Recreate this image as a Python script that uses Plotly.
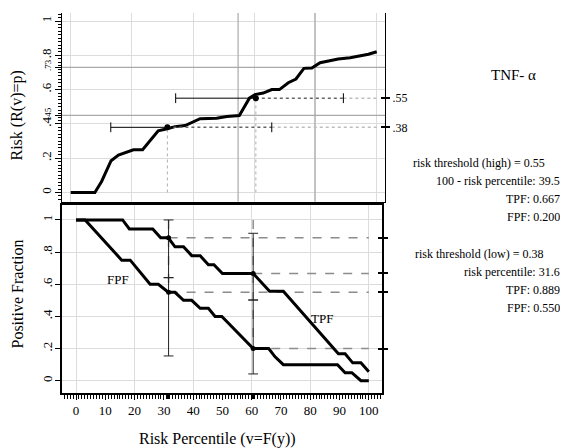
import plotly.graph_objects as go

# ---------------- data ----------------
# predictiveness curve (risk vs risk percentile)
pct = [0, 7.9, 10.1, 13.2, 15.6, 18.3, 20.5, 23.5, 28.6, 31.2, 34.1, 37.4, 40.1, 42.3,
       47.7, 51.0, 55.1, 57.3, 58.4, 60.2, 62.9, 65.7, 68.2, 71.1, 73.6, 76.2, 78.8,
       81.5, 84.2, 87.4, 91.3, 95.1, 97.3, 100]
risk = [0, 0, 0.064, 0.185, 0.218, 0.233, 0.249, 0.249, 0.36, 0.37, 0.384, 0.39, 0.414,
        0.43, 0.433, 0.443, 0.449, 0.52, 0.55, 0.571, 0.58, 0.60, 0.60, 0.64, 0.662,
        0.724, 0.726, 0.757, 0.767, 0.779, 0.786, 0.796, 0.806, 0.821]

# true / false positive fractions
tpf_x = [0, 15.9, 18.2, 26.2, 28.9, 31.5, 33.8, 36.7, 39.5, 42.4, 45.2, 47.1, 50.0,
         60.5, 66.1, 70.8, 89.6, 91.9, 94.5, 97.3, 100]
tpf_y = [1, 1, .944, .944, .889, .889, .833, .833, .778, .778, .722, .722, .667, .667,
         .556, .556, .167, .167, .111, .111, .056]
fpf_x = [0, 3.1, 15.6, 18.5, 25.3, 28.1, 31.5, 33.8, 36.7, 39.5, 42.4, 45.2, 47.5, 49.8,
         60.5, 65.8, 67.9, 70.8, 89.3, 91.9, 94.2, 97.3, 100]
fpf_y = [1, 1, .75, .75, .6, .6, .55, .55, .5, .5, .45, .45, .4, .4, .2, .2, .15, .1, .1,
         .05, .05, 0, 0]

# thresholds: [low, high]
thr_risk = [0.38, 0.55]
thr_pct = [31.6, 60.5]
thr_tpf = [0.889, 0.667]
thr_fpf = [0.55, 0.20]
pct_ci_lo = [13.1, 34.3]
pct_ci_hi = [65.7, 89.1]
tpf_ci_lo = [0.641, 0.502]
tpf_ci_hi = [1.0, 0.917]
fpf_ci_lo = [0.154, 0.042]
fpf_ci_hi = [0.641, 0.502]

ref_risk = [0.45, 0.73]
ref_pct = [54.7, 79.8]

top_ticks = [0, 0.2, 0.4, 0.45, 0.6, 0.73, 0.8, 1]
top_ticktext = ['0', '.2', '.4', '<span style="font-size:9px">.45</span>', '.6',
                '<span style="font-size:9px">.73</span>', '.8', '1']
bot_yticks = [0, 0.2, 0.4, 0.6, 0.8, 1]
bot_yticktext = ['0', '.2', '.4', '.6', '.8', '1']
x_ticks = [0, 10, 20, 30, 40, 50, 60, 70, 80, 90, 100]

info_high = ["risk threshold (high) = 0.55", "100 - risk percentile: 39.5",
             "TPF: 0.667", "FPF: 0.200"]
info_low = ["risk threshold (low) = 0.38", "risk percentile: 31.6",
            "TPF: 0.889", "FPF: 0.550"]

# ---------------- styling ----------------
FONT = "Liberation Serif"
OFF = 8                      # page body margin
W, H = 568 - OFF, 448 - OFF
GRID = "#dcdcdc"
REF = "#a9a9a9"


def px(x):
    return (x - OFF) / W


def py(y):
    return 1 - (y - OFF) / H


def seg(xs0, xs1, ys0, ys1):
    xs, ys = [], []
    for a, b, c, d in zip(xs0, xs1, ys0, ys1):
        xs += [a, b, None]
        ys += [c, d, None]
    return xs, ys


def carrier(x, y, xa, ya):
    return go.Scatter(x=x, y=y, mode="markers", marker=dict(opacity=0), xaxis=xa,
                      yaxis=ya, showlegend=False, hoverinfo="skip")


fig = go.Figure()

# ---------- top panel ----------
xs, ys = seg([-3.0] * 2, [102.7] * 2, ref_risk, ref_risk)
fig.add_trace(go.Scatter(x=xs, y=ys, mode="lines", line=dict(color=REF, width=1.2),
                         xaxis="x", yaxis="y", showlegend=False, hoverinfo="skip"))
xs, ys = seg(ref_pct, ref_pct, [-0.054] * 2, [1.047] * 2)
fig.add_trace(go.Scatter(x=xs, y=ys, mode="lines", line=dict(color=REF, width=1.2),
                         xaxis="x", yaxis="y", showlegend=False, hoverinfo="skip"))

fig.add_trace(go.Scatter(x=pct, y=risk, mode="lines", line=dict(color="black", width=3),
                         xaxis="x", yaxis="y", showlegend=False))
xs, ys = seg(thr_pct, thr_pct, [0, 0], thr_risk)
fig.add_trace(go.Scatter(x=xs, y=ys, mode="lines",
                         line=dict(color="#b0b0b0", width=1, dash="dot"),
                         xaxis="x", yaxis="y", showlegend=False))
xs, ys = seg(pct_ci_hi, [100, 100], thr_risk, thr_risk)
fig.add_trace(go.Scatter(x=xs, y=ys, mode="lines",
                         line=dict(color="#bdbdbd", width=1.5, dash="dot"),
                         xaxis="x", yaxis="y", showlegend=False))
xs, ys = seg(thr_pct, pct_ci_hi, thr_risk, thr_risk)
fig.add_trace(go.Scatter(x=xs, y=ys, mode="lines",
                         line=dict(color="#666666", width=1.5, dash="dot"),
                         xaxis="x", yaxis="y", showlegend=False))
xs, ys = seg(pct_ci_lo, thr_pct, thr_risk, thr_risk)
fig.add_trace(go.Scatter(x=xs, y=ys, mode="lines", line=dict(color="black", width=1),
                         xaxis="x", yaxis="y", showlegend=False))
fig.add_trace(go.Scatter(x=pct_ci_lo + pct_ci_hi, y=thr_risk + thr_risk, mode="markers",
                         marker=dict(symbol="line-ns-open", size=7, color="black",
                                     line=dict(color="black", width=1)),
                         xaxis="x", yaxis="y", showlegend=False))
fig.add_trace(go.Scatter(x=thr_pct, y=thr_risk, mode="markers",
                         marker=dict(color="black", size=6),
                         xaxis="x", yaxis="y", showlegend=False))
fig.add_trace(carrier(thr_pct, thr_risk, "x", "y2"))
fig.add_trace(carrier(thr_pct, thr_risk, "x", "y5"))

# ---------- bottom panel ----------
xs, ys = seg(thr_pct, thr_pct, [1, 1], thr_fpf)
fig.add_trace(go.Scatter(x=xs, y=ys, mode="lines",
                         line=dict(color="#8c8c8c", width=1.5, dash="dash"),
                         xaxis="x3", yaxis="y3", showlegend=False))
hx0 = thr_pct + thr_pct
hy = thr_tpf + thr_fpf
xs, ys = seg(hx0, [100] * 4, hy, hy)
fig.add_trace(go.Scatter(x=xs, y=ys, mode="lines",
                         line=dict(color="#8c8c8c", width=1.5, dash="dash"),
                         xaxis="x3", yaxis="y3", showlegend=False))
fig.add_trace(go.Scatter(x=tpf_x, y=tpf_y, mode="lines", line=dict(color="black", width=3),
                         xaxis="x3", yaxis="y3", showlegend=False))
fig.add_trace(go.Scatter(x=fpf_x, y=fpf_y, mode="lines", line=dict(color="black", width=3),
                         xaxis="x3", yaxis="y3", showlegend=False))
xs, ys = seg(thr_pct + thr_pct, thr_pct + thr_pct, tpf_ci_lo + fpf_ci_lo,
             tpf_ci_hi + fpf_ci_hi)
fig.add_trace(go.Scatter(x=xs, y=ys, mode="lines", line=dict(color="#222222", width=1),
                         xaxis="x3", yaxis="y3", showlegend=False))
fig.add_trace(go.Scatter(x=thr_pct * 4,
                         y=tpf_ci_lo + tpf_ci_hi + fpf_ci_lo + fpf_ci_hi,
                         mode="markers",
                         marker=dict(symbol="line-ew-open", size=7, color="#222222",
                                     line=dict(color="#222222", width=1)),
                         xaxis="x3", yaxis="y3", showlegend=False))
fig.add_trace(go.Scatter(x=thr_pct + thr_pct, y=thr_tpf + thr_fpf, mode="markers",
                         marker=dict(color="black", size=5),
                         xaxis="x3", yaxis="y3", showlegend=False))
fig.add_trace(carrier(hx0, hy, "x3", "y4"))
fig.add_trace(carrier(hx0, hy, "x3", "y6"))
fig.add_trace(carrier(thr_pct, thr_fpf, "x4", "y3"))
fig.add_trace(carrier(thr_pct, thr_fpf, "x5", "y3"))

tickfont = dict(family=FONT, size=13, color="black")

top_dom_x = [px(61.5), px(385)]
top_dom_y = [py(201.7), py(13)]
bot_dom_x = [px(62), px(382)]
bot_dom_y = [py(393), py(205)]
top_yrange = [-0.054, 1.047]
bot_xrange = [-4.8, 104.5]
bot_yrange = [-0.0765, 1.093]


def ann(text, x, y, size, xanchor="center", angle=0, xref="paper", yref="paper"):
    return dict(text=text, x=x, y=y, xref=xref, yref=yref, xanchor=xanchor,
                yanchor="middle", textangle=angle, showarrow=False,
                font=dict(family=FONT, size=size, color="black"))


annotations = [
    ann("Risk (R(v)=p)", px(16.5), py(116), 16, angle=-90),
    ann("Positive Fraction", px(16.5), py(294), 16, angle=-90),
    ann("Risk Percentile (v=F(y))", px(217), py(439), 16),
    ann("TNF- α", px(513), py(75), 15),
    ann("FPF", 14.3, 0.627, 13, xref="x3", yref="y3"),
    ann("TPF", 83.9, 0.388, 13, xref="x3", yref="y3"),
]
for i, (t, yy) in enumerate(zip(info_high, [163, 181, 199, 217])):
    if i == 0:
        annotations.append(ann(t, px(411), py(yy), 12, xanchor="left"))
    else:
        annotations.append(ann(t, px(562), py(yy), 12, xanchor="right"))
for i, (t, yy) in enumerate(zip(info_low, [254, 272, 290, 308])):
    if i == 0:
        annotations.append(ann(t, px(413), py(yy), 12, xanchor="left"))
    else:
        annotations.append(ann(t, px(562), py(yy), 12, xanchor="right"))

fig.update_layout(
    width=W, height=H, margin=dict(l=0, r=0, t=0, b=0, autoexpand=False),
    paper_bgcolor="white", plot_bgcolor="white",
    font=dict(family=FONT, color="black"),
    annotations=annotations,
    xaxis=dict(domain=top_dom_x, range=[-3.0, 102.7], anchor="y",
               tickmode="linear", tick0=0, dtick=20, showticklabels=False, ticks="",
               showgrid=True, gridcolor=GRID, gridwidth=1, zeroline=False,
               showline=True, linecolor="black", linewidth=1),
    yaxis=dict(domain=top_dom_y, range=top_yrange, anchor="x",
               tickvals=top_ticks, ticktext=top_ticktext, tickangle=-90,
               ticks="outside", ticklen=6, tickcolor="black", tickfont=tickfont,
               ticklabelstandoff=-2,
               showgrid=True, gridcolor=GRID, zeroline=False,
               showline=True, linecolor="black", linewidth=1,
               minor=dict(dtick=0.02, tick0=0, ticks="outside", ticklen=3,
                          tickcolor="black", showgrid=False)),
    yaxis2=dict(overlaying="y", side="right", anchor="x", range=top_yrange,
                tickvals=thr_risk, ticktext=[".38", ".55"], ticks="outside", ticklen=4,
                tickcolor="black", tickwidth=1.5, tickfont=dict(family=FONT, size=12),
                showgrid=False, zeroline=False, showline=True, linecolor="black",
                linewidth=1),
    yaxis5=dict(overlaying="y", side="right", anchor="x", range=top_yrange,
                tickvals=thr_risk, showticklabels=False, ticks="inside", ticklen=4,
                tickcolor="black", tickwidth=1.5, showgrid=False, zeroline=False,
                showline=False),
    xaxis3=dict(domain=bot_dom_x, range=bot_xrange, anchor="y3",
                tickvals=x_ticks, ticks="outside", ticklen=5, tickcolor="black",
                tickfont=tickfont, showgrid=False, zeroline=False,
                showline=True, linecolor="black", linewidth=1.5, mirror=True,
                minor=dict(dtick=1, tick0=0, ticks="outside", ticklen=4,
                           tickcolor="black", showgrid=False)),
    xaxis4=dict(overlaying="x3", anchor="y3", range=bot_xrange, tickmode="linear",
                tick0=0, dtick=20, showticklabels=False, ticks="", showgrid=True,
                gridcolor=GRID, zeroline=False, showline=False),
    xaxis5=dict(overlaying="x3", anchor="y3", range=bot_xrange, tickvals=thr_pct,
                showticklabels=False, ticks="outside", ticklen=5, tickwidth=3,
                tickcolor="black", showgrid=False, zeroline=False, showline=False),
    yaxis3=dict(domain=bot_dom_y, range=bot_yrange, anchor="x3",
                tickvals=bot_yticks, ticktext=bot_yticktext, tickangle=-90,
                ticks="outside", ticklen=5, tickcolor="black", tickfont=tickfont,
                ticklabelstandoff=-2,
                showgrid=True, gridcolor=GRID, zeroline=False,
                showline=True, linecolor="black", linewidth=1.5, mirror=True),
    yaxis4=dict(overlaying="y3", side="right", anchor="x3", range=bot_yrange,
                tickvals=hy, showticklabels=False, ticks="outside",
                ticklen=4, tickcolor="black", tickwidth=1.5, showgrid=False,
                zeroline=False, showline=True, linecolor="black", linewidth=1.5),
    yaxis6=dict(overlaying="y3", side="right", anchor="x3", range=bot_yrange,
                tickvals=hy, showticklabels=False, ticks="inside",
                ticklen=4, tickcolor="black", tickwidth=1.5, showgrid=False,
                zeroline=False, showline=False),
)

fig.write_html("out.html")
